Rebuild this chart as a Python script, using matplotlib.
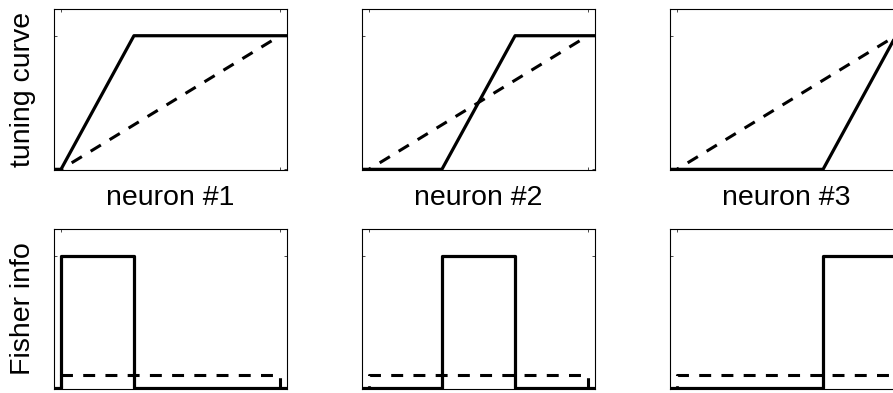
import matplotlib.pyplot as plt

plt.rcParams['font.family'] = ['Liberation Sans', 'DejaVu Sans']
plt.rcParams['lines.scale_dashes'] = False

neuron_labels = ['neuron #1', 'neuron #2', 'neuron #3']

# piecewise-linear tuning curves (solid), one per neuron
tuning_x = [[-0.05, 0.0, 0.333, 1.05],
            [-0.05, 0.333, 0.667, 1.05],
            [-0.05, 0.667, 1.0, 1.05]]
tuning_y = [0, 0, 1, 1]

# shared linear tuning curve (dashed)
linear_x = [0, 1]
linear_y = [0, 1]

# Fisher information of the solid curves: boxcar over the rising part
fisher_x = [[-0.05, 0.0, 0.0, 0.333, 0.333, 1.05],
            [-0.05, 0.333, 0.333, 0.667, 0.667, 1.05],
            [-0.05, 0.667, 0.667, 1.0, 1.0, 1.05]]
fisher_y = [0, 0, 1, 1, 0, 0]

# Fisher information of the linear curve: flat and low
fisher_linear_x = [0, 0, 1, 1]
fisher_linear_y = [0, 0.1, 0.1, 0]

W, H = 893, 393
fig = plt.figure(figsize=(W / 100, H / 100), dpi=100)

lefts = [54, 362, 670]
ax_w = 233
rows = [(9, 170), (229, 389)]   # top/bottom pixel rows of each panel row

solid_kw = dict(color='black', lw=2.3, solid_capstyle='butt')
dash_kw = dict(color='black', lw=2.2, linestyle=(7.0, (8.6, 7.4)), dash_capstyle='butt')


def style_axes(ax):
    ax.set_xlim(-0.032, 1.032)
    ax.set_ylim(-0.005, 1.2)
    ax.set_xticks([0, 1])
    ax.set_yticks([0, 1])
    ax.tick_params(direction='in', length=2, width=0.5, top=True, right=True,
                   labelbottom=False, labelleft=False)
    for s in ax.spines.values():
        s.set_linewidth(0.8)


for i in range(3):
    for r, (top, bot) in enumerate(rows):
        ax = fig.add_axes([lefts[i] / W, (H - bot) / H, ax_w / W, (bot - top) / H])
        style_axes(ax)
        if r == 0:
            ax.plot(linear_x, linear_y, **dash_kw)
            ax.plot(tuning_x[i], tuning_y, **solid_kw)
            ax.set_xlabel(neuron_labels[i], fontsize=20.5, labelpad=11)
            if i == 0:
                ax.set_ylabel('tuning curve', fontsize=20.5, labelpad=13)
        else:
            ax.plot(fisher_linear_x, fisher_linear_y, **dash_kw)
            ax.plot(fisher_x[i], fisher_y, **solid_kw)
            if i == 0:
                ax.set_ylabel('Fisher info', fontsize=20.5, labelpad=13)

fig.savefig('out.png', dpi=100)
